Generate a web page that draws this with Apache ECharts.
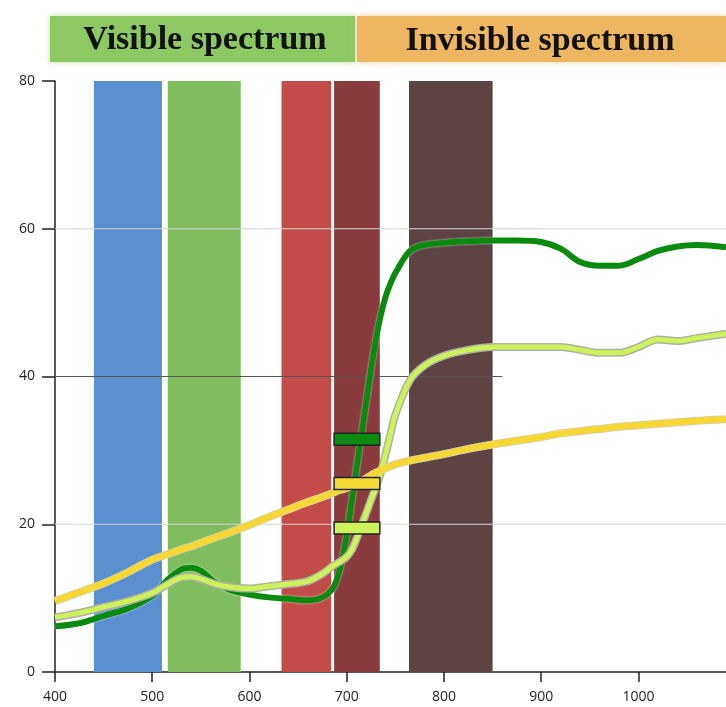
<!DOCTYPE html>
<html>
<head>
<meta charset="utf-8">
<script src="https://cdn.jsdelivr.net/npm/echarts@6/dist/echarts.min.js"></script>
<style>
  html, body { margin: 0; padding: 0; background: #fff; }
  #chart { width: 726px; height: 707px; }
</style>
</head>
<body>
<div id="chart"></div>
<script>
// wavelength (nm)
var wavelengths = [400, 425, 450, 475, 500, 515, 530, 540, 550, 565, 580, 600, 620, 640, 660, 675, 685, 690, 695, 700, 705, 710, 715, 720, 725, 730, 735, 740, 745, 750, 765, 780, 800, 825, 850, 875, 900, 920, 940, 960, 980, 1000, 1020, 1040, 1060, 1090];

var darkGreen = [6.2, 6.6, 7.6, 8.6, 10.3, 12.4, 13.9, 14.1, 13.7, 12.1, 11.1, 10.5, 10.1, 9.9, 9.7, 10.1, 11.2, 12.6, 15.0, 18.5, 23.0, 27.5, 32.0, 36.5, 41.0, 45.0, 48.3, 50.8, 52.6, 54.0, 57.0, 57.8, 58.1, 58.3, 58.4, 58.4, 58.2, 57.3, 55.5, 55.0, 55.0, 55.9, 57.0, 57.6, 57.8, 57.5];
var lightGreen = [7.4, 8.0, 8.8, 9.6, 10.7, 11.8, 12.8, 12.9, 12.6, 11.9, 11.5, 11.3, 11.6, 11.9, 12.3, 13.3, 14.3, 14.7, 15.1, 15.6, 16.5, 18.0, 19.8, 21.5, 23.3, 25.0, 27.0, 29.5, 32.2, 34.8, 39.5, 41.5, 42.8, 43.6, 44.0, 44.0, 44.0, 44.0, 43.6, 43.2, 43.2, 44.0, 45.0, 44.8, 45.2, 45.8];
var yellow = [9.6, 10.8, 12.0, 13.5, 15.2, 15.9, 16.6, 17.0, 17.5, 18.2, 18.9, 19.9, 21.0, 22.0, 23.0, 23.7, 24.2, 24.5, 24.7, 24.9, 25.2, 25.5, 25.8, 26.2, 26.6, 27.0, 27.3, 27.6, 27.85, 28.1, 28.6, 29.0, 29.5, 30.2, 30.8, 31.3, 31.8, 32.3, 32.6, 32.9, 33.2, 33.4, 33.6, 33.8, 34.0, 34.2];

// coloured spectral bands [start nm, end nm]
var bands = [[440, 510], [516, 591], [633, 684], [687, 734], [764, 850]];
var bandColors = ["#5b90d0", "#7fbd5f", "#c24d48", "#8a3b3e", "#5d4343"];

// markers at 700-730 nm [start, end, value]
var markers = [[687, 734, 31.5], [687, 734, 25.5], [687, 734, 19.5]];
var markerColors = ["#0c8a12", "#f6d832", "#cdf35c"];

// horizontal guide lines [from nm, to nm, value]
var guides = [[400, 1090, 60], [400, 860, 40], [400, 1090, 20]];
var guideColors = ["#d4d4d4", "#555", "#d4d4d4"];

function pairs(ys) {
  return wavelengths.map(function (x, i) { return [x, ys[i]]; });
}

var chart = echarts.init(document.getElementById("chart"));

function rectSeries(name, data, colors, full, border, z) {
  return {
    name: name,
    type: "custom",
    z: z,
    silent: true,
    data: data,
    renderItem: function (params, api) {
      var x0 = api.value(0), x1 = api.value(1);
      var p0, p1;
      if (full) {
        p0 = api.coord([x0, 80]);
        p1 = api.coord([x1, 0]);
      } else {
        var y = api.value(2);
        p0 = api.coord([x0, y]);
        p1 = api.coord([x1, y]);
        p0[1] -= 6;
        p1[1] += 6;
      }
      return {
        type: "rect",
        shape: { x: p0[0], y: p0[1], width: p1[0] - p0[0], height: p1[1] - p0[1] },
        style: {
          fill: colors[params.dataIndex],
          stroke: border ? "#222" : null,
          lineWidth: border ? 1.5 : 0,
        },
      };
    },
  };
}

function lineSeries(name, ys, color, width, z, extra) {
  return {
    name: name,
    type: "line",
    z: z,
    data: pairs(ys),
    smooth: 0.35,
    symbol: "none",
    lineStyle: Object.assign({ color: color, width: width }, extra || {}),
  };
}

chart.setOption({
  animation: false,
  grid: { left: 55, right: 0, top: 81, bottom: 35 },
  xAxis: {
    type: "value",
    min: 400,
    max: 1090,
    interval: 100,
    axisLine: { lineStyle: { color: "#222", width: 1.5 } },
    axisTick: { show: true, length: 10, lineStyle: { color: "#222", width: 1.5 } },
    axisLabel: {
      color: "#222",
      fontSize: 14,
      fontFamily: "Open Sans",
      margin: 18,
      showMaxLabel: false,
      formatter: function (v) { return String(v); },
    },
    splitLine: { show: false },
  },
  yAxis: {
    type: "value",
    min: 0,
    max: 80,
    interval: 20,
    axisLine: { show: true, lineStyle: { color: "#222", width: 1.5 } },
    axisTick: { show: true, length: 13, lineStyle: { color: "#222", width: 1.5 } },
    axisLabel: { color: "#222", fontSize: 14, fontFamily: "Open Sans", margin: 20 },
    splitLine: { show: false },
  },
  graphic: [
    {
      type: "rect",
      shape: { x: 50, y: 16, width: 305, height: 46 },
      style: { fill: "#8cc963", shadowColor: "rgba(140,201,99,0.6)", shadowBlur: 6 },
    },
    {
      type: "rect",
      shape: { x: 357, y: 16, width: 369, height: 46 },
      style: { fill: "#eeb660", shadowColor: "rgba(238,182,96,0.6)", shadowBlur: 6 },
    },
    {
      type: "text",
      x: 205,
      y: 40,
      style: {
        text: "Visible spectrum",
        font: "bold 34px 'Liberation Serif'",
        fill: "#111",
        textAlign: "center",
        textVerticalAlign: "middle",
      },
    },
    {
      type: "text",
      x: 540,
      y: 41,
      style: {
        text: "Invisible spectrum",
        font: "bold 34px 'Liberation Serif'",
        fill: "#111",
        textAlign: "center",
        textVerticalAlign: "middle",
      },
    },
  ],
  series: [
    rectSeries("bands", bands, bandColors, true, false, 1),
    {
      name: "guides",
      type: "custom",
      z: 2,
      silent: true,
      data: guides,
      renderItem: function (params, api) {
        var a = api.coord([api.value(0), api.value(2)]);
        var b = api.coord([api.value(1), api.value(2)]);
        return {
          type: "line",
          shape: { x1: a[0], y1: a[1], x2: b[0], y2: b[1] },
          style: { stroke: guideColors[params.dataIndex], lineWidth: 1 },
        };
      },
    },
    lineSeries("dark green", darkGreen, "#0b8a10", 6, 3, { shadowColor: "rgba(255,255,255,0.8)", shadowBlur: 2 }),
    lineSeries("light green outline", lightGreen, "#b0b0a0", 8, 4),
    lineSeries("light green", lightGreen, "#cdf35c", 5, 5),
    lineSeries("yellow outline", yellow, "#d8cfa0", 8, 4),
    lineSeries("yellow", yellow, "#f7d833", 6, 5),
    rectSeries("markers", markers, markerColors, false, true, 6),
  ],
});
</script>
</body>
</html>
